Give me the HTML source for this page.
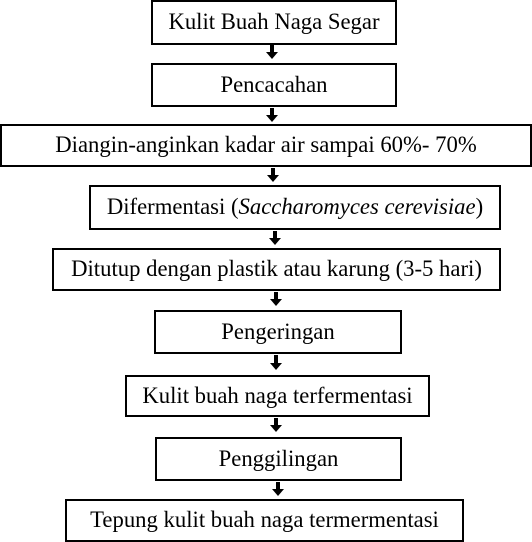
<!DOCTYPE html>
<html><head><meta charset="utf-8"><style>
html,body{margin:0;padding:0;background:#fff;}
body{width:532px;height:542px;position:relative;overflow:hidden;font-family:"Liberation Serif",serif;font-size:22.7px;color:#000;}
.b{position:absolute;box-sizing:border-box;border:2px solid #000;display:flex;align-items:center;justify-content:center;white-space:nowrap;padding-bottom:1px;}
</style></head><body>
<div class="b" style="left:151px;top:0;width:246px;height:45px;">Kulit Buah Naga Segar</div>
<div class="b" style="left:151px;top:63px;width:246px;height:44px;">Pencacahan</div>
<div class="b" style="left:0;top:124px;width:532px;height:43px;">Diangin-anginkan kadar air sampai 60%- 70%</div>
<div class="b" style="left:89px;top:185px;width:412px;height:45px;">Difermentasi (<i>Saccharomyces cerevisiae</i>)</div>
<div class="b" style="left:52px;top:248px;width:449px;height:43px;">Ditutup dengan plastik atau karung (3-5 hari)</div>
<div class="b" style="left:154px;top:310px;width:248px;height:44px;">Pengeringan</div>
<div class="b" style="left:125px;top:375px;width:305px;height:42px;">Kulit buah naga terfermentasi</div>
<div class="b" style="left:155px;top:437px;width:247px;height:44px;">Penggilingan</div>
<div class="b" style="left:65px;top:499px;width:399px;height:43px;">Tepung kulit buah naga termermentasi</div>

<svg width="532" height="542" style="position:absolute;left:0;top:0">
<g fill="#000">
<path d="M270 45h4v7h4l-6 7l-6-7h4z"/>
<path d="M270 108h4v7h4l-6 7l-6-7h4z"/>
<path d="M271 168h4v7h4l-6 7l-6-7h4z"/>
<path d="M273 231h4v7h4l-6 7l-6-7h4z"/>
<path d="M274 292h4v7h4l-6 7l-6-7h4z"/>
<path d="M274 355h4v8h4l-6 7l-6-7h4z"/>
<path d="M274 418h4v7h4l-6 7l-6-7h4z"/>
<path d="M276 482h4v7h4l-6 7l-6-7h4z"/>
</g>
</svg>
</body></html>
